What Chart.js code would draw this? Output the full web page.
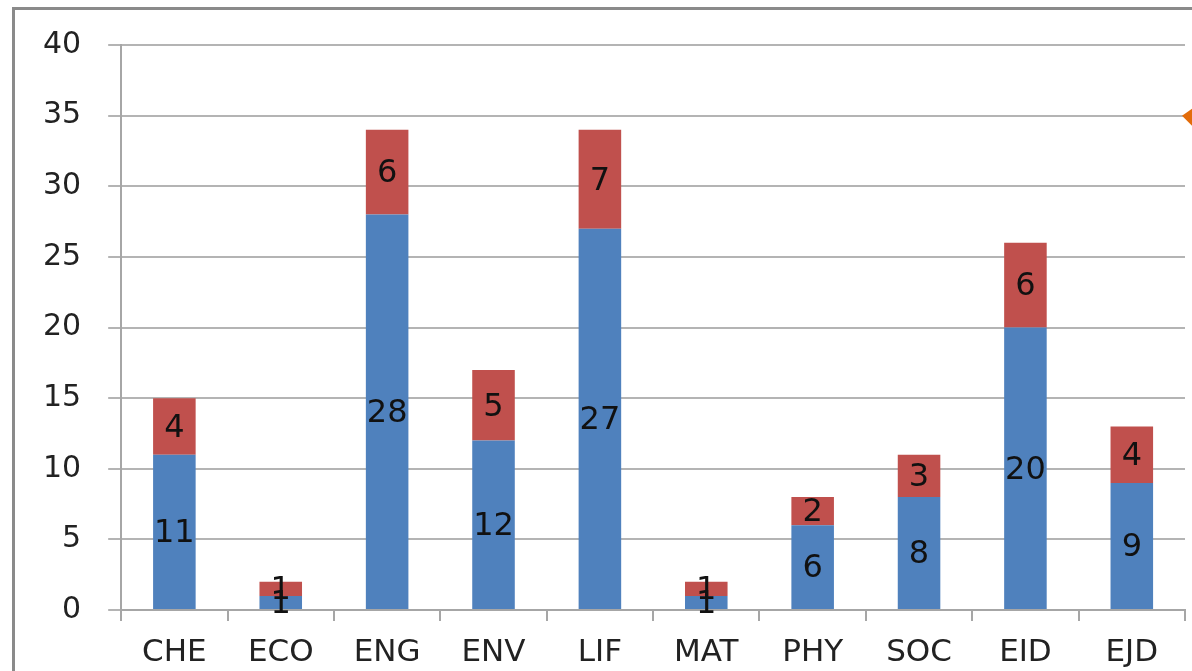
<!DOCTYPE html>
<html>
<head>
    <meta charset="utf-8">
    <title>Stacked bars</title>
    <script src="https://cdn.jsdelivr.net/npm/chart.js@4.4.1/dist/chart.umd.min.js"></script>
    <style>
        body { margin: 0; background: #fff; overflow: hidden; }
        #frame { position: absolute; left: 12px; top: 7px; width: 1200px; height: 700px;
                 border-left: 3px solid #8a8a8a; border-top: 3px solid #8a8a8a; }
        #wrap { position: absolute; left: 0; top: 0; width: 1192px; height: 671px; }
    </style>
</head>
<body>
<div id="frame"></div>
<div id="wrap"><canvas id="myChart" width="1192" height="671"></canvas></div>

<script>
    // subjects
    let categories = ["CHE", "ECO", "ENG", "ENV", "LIF", "MAT", "PHY", "SOC", "EID", "EJD"];
    // lower (blue) and upper (red) parts of each bar
    let blueValues = [11, 1, 28, 12, 27, 1, 6, 8, 20, 9];
    let redValues = [4, 1, 6, 5, 7, 1, 2, 3, 6, 4];
    let yMax = 40;
    let yStep = 5;

    let fontFamily = "'DejaVu Sans', sans-serif";

    // value written in the middle of every segment
    const segmentLabels = {
        id: 'segmentLabels',
        afterDatasetsDraw(chart) {
            const ctx = chart.ctx;
            ctx.save();
            ctx.font = '32px ' + fontFamily;
            ctx.fillStyle = '#111';
            ctx.textAlign = 'center';
            ctx.textBaseline = 'middle';
            chart.data.datasets.forEach((ds, i) => {
                chart.getDatasetMeta(i).data.forEach((bar, j) => {
                    ctx.fillText(String(ds.data[j]), bar.x, (bar.y + bar.base) / 2 + 2);
                });
            });
            ctx.restore();
        }
    };

    // little orange marker cut off at the right edge
    const edgeMarker = {
        id: 'edgeMarker',
        afterDraw(chart) {
            const ctx = chart.ctx;
            const y = chart.scales.y.getPixelForValue(35);
            const x = chart.chartArea.right - 3;
            ctx.save();
            ctx.fillStyle = '#E36C0A';
            ctx.beginPath();
            ctx.moveTo(x, y);
            ctx.lineTo(chart.width, y - 7);
            ctx.lineTo(chart.width, y + 10);
            ctx.closePath();
            ctx.fill();
            ctx.restore();
        }
    };

    var ctx = document.getElementById('myChart').getContext('2d');
    var myChart = new Chart(ctx, {
        type: 'bar',
        data: {
            labels: categories,
            datasets: [{
                data: blueValues,
                backgroundColor: "#4F81BD",
                barPercentage: 0.4,
                categoryPercentage: 1
            }, {
                data: redValues,
                backgroundColor: "#C0504D",
                barPercentage: 0.4,
                categoryPercentage: 1
            }]
        },
        options: {
            responsive: false,
            animation: false,
            layout: { padding: { left: 16, top: 44, right: 7, bottom: 2 } },
            plugins: { legend: { display: false }, tooltip: { enabled: false } },
            scales: {
                x: {
                    stacked: true,
                    grid: { drawOnChartArea: false, color: '#a6a6a6', lineWidth: 2, tickLength: 11 },
                    border: { color: '#a6a6a6', width: 2 },
                    ticks: { color: '#222', font: { family: fontFamily, size: 31 }, padding: 13 },
                    afterFit(axis) { axis.height = 59; }
                },
                y: {
                    stacked: true,
                    min: 0,
                    max: yMax,
                    ticks: { stepSize: yStep, color: '#222', font: { family: fontFamily, size: 30 }, padding: 27 },
                    grid: { color: '#b4b4b4', lineWidth: 2, tickLength: 13 },
                    border: { color: '#a6a6a6', width: 2 }
                }
            }
        },
        plugins: [segmentLabels, edgeMarker]
    });
</script>

</body>
</html>
